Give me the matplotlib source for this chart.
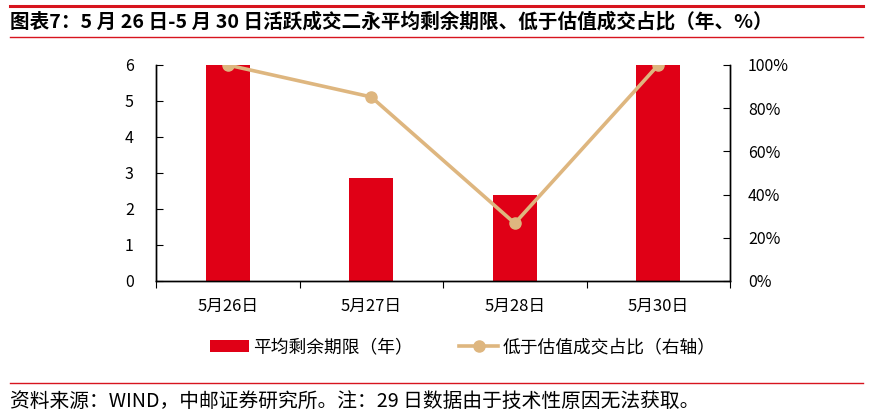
import numpy as np
import matplotlib
matplotlib.use("Agg")
import matplotlib.pyplot as plt
from matplotlib.lines import Line2D
from matplotlib.patches import Patch
from matplotlib.ticker import PercentFormatter

plt.rcParams['font.family'] = ['Noto Sans CJK SC', 'DejaVu Sans']

# Dados
dias = ["5月26日", "5月27日", "5月28日", "5月30日"]
prazo_medio = [6.0, 2.87, 2.40, 6.0]          # 平均剩余期限（年）
abaixo_aval = [100.0, 85.2, 26.7, 100.0]      # 低于估值成交占比（%）

VERMELHO = "#E00016"
BEGE = "#DEB67F"

fig = plt.figure(figsize=(8.73, 4.18), dpi=100)
ax = fig.add_axes([0.1787, 0.3278, 0.6575, 0.5167])
ax2 = ax.twinx()

x = np.arange(len(dias))
ax.bar(x, prazo_medio, width=0.31, color=VERMELHO, zorder=2)
ax2.plot(x, abaixo_aval, color=BEGE, lw=2.6, marker='o', ms=8, zorder=3)

ax.set_xlim(-0.5, len(dias) - 0.5)
ax.set_ylim(0, 6)
ax2.set_ylim(0, 100)
ax.set_yticks(range(0, 7))
ax2.set_yticks(range(0, 101, 20))
ax2.yaxis.set_major_formatter(PercentFormatter(decimals=0))

ax.set_xticks(np.arange(-0.5, len(dias), 1.0), minor=False)
ax.set_xticklabels([])
ax.set_xticks(x, minor=True)
ax.set_xticklabels(dias, minor=True, fontsize=12)
ax.tick_params(axis='x', which='minor', length=0, pad=12)
ax.tick_params(axis='x', which='major', length=5, direction='out', color='black')
ax.tick_params(axis='y', direction='in', length=5, labelsize=11.5, pad=16)
ax2.tick_params(axis='y', direction='in', length=5, labelsize=11.5, pad=13)

for a in (ax, ax2):
    a.spines['top'].set_visible(False)
    for s in ('left', 'right', 'bottom'):
        a.spines[s].set_color('black')
        a.spines[s].set_linewidth(1.0)

# legenda
handles = [
    Patch(facecolor=VERMELHO, edgecolor='none'),
    Line2D([0], [0], color=BEGE, lw=2.6, marker='o', ms=8),
]
fig.legend(handles, ["平均剩余期限（年）", "低于估值成交占比（右轴）"],
           loc='center', bbox_to_anchor=(0.53, 1 - 347 / 418), ncol=2,
           frameon=False, fontsize=12.8, handlelength=2.2, columnspacing=2.6,
           handletextpad=0.25)

# título e linhas vermelhas
fig.add_artist(Line2D([0.012, 0.988], [1 - 6 / 418, 1 - 6 / 418], color='#D7141E', lw=2.2))
fig.add_artist(Line2D([0.012, 0.988], [1 - 37 / 418, 1 - 37 / 418], color='#D7141E', lw=1.0))
fig.text(0.012, 1 - 22 / 418,
         "图表7：5 月 26 日-5 月 30 日活跃成交二永平均剩余期限、低于估值成交占比（年、%）",
         fontsize=14.1, fontweight='bold', va='center', ha='left')

# rodapé
fig.add_artist(Line2D([0.012, 0.988], [1 - 383 / 418, 1 - 383 / 418], color='#D7141E', lw=1.0))
fig.text(0.012, 1 - 401 / 418,
         "资料来源：WIND，中邮证券研究所。注：29 日数据由于技术性原因无法获取。",
         fontsize=14.2, va='center', ha='left')

fig.savefig("out.png", dpi=100)
